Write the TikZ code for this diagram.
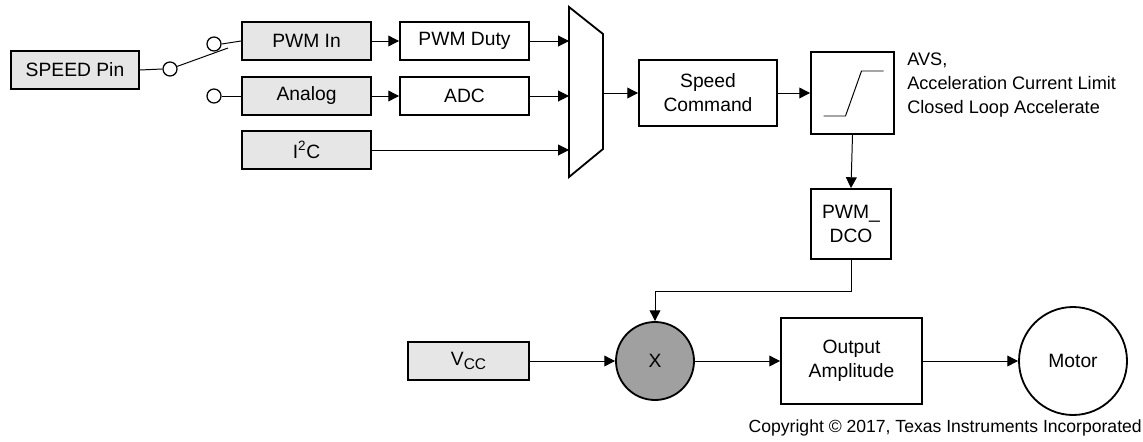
\documentclass[tikz,border=0pt]{standalone}
\usepackage{fontspec}
\setmainfont{Liberation Sans}
\usetikzlibrary{arrows.meta}

\definecolor{boxgray}{HTML}{E6E6E6}
\definecolor{mulgray}{HTML}{A0A0A0}

\begin{document}
\begin{tikzpicture}[x=0.025cm, y=-0.025cm,
  font=\fontsize{13.7}{17}\selectfont,
  >={Triangle[length=2.7mm,width=2.7mm]},
  block/.style={draw, line width=1.3pt, inner sep=2pt, align=center,
    minimum height=38*0.025cm},
  inbox/.style={block, fill=boxgray, minimum width=129*0.025cm},
  calcbox/.style={block, fill=white},
  pin/.style={draw, circle, fill=white, line width=0.9pt, inner sep=0pt,
    minimum size=14*0.025cm},
  link/.style={line width=0.7pt}]
\useasboundingbox (0,0) rectangle (1143,441);

% inputs
\node[inbox, minimum width=128*0.025cm] (speed) at (75,70) {SPEED Pin};
\node[inbox] (pwmin) at (306.5,41) {PWM In};
\node[inbox] (analog) at (306.5,96) {Analog};
\node[inbox] (iic) at (306.5,150) {I\textsuperscript{2}C};

% switch
\node[pin] (sw0) at (170,69) {};
\node[pin] (sw1) at (214,44) {};
\node[pin] (sw2) at (214,96) {};
\coordinate (blade) at (228,48);
\draw[link] (speed.east) -- (sw0.west);
\draw[link] (sw0) -- (blade);
\draw[link] (sw1.east) -- (pwmin.west);
\draw[link] (sw2.east) -- (analog.west);

% decoders
\node[calcbox, minimum width=129*0.025cm] (duty) at (464.5,41) {PWM Duty};
\node[calcbox, minimum width=129*0.025cm] (adc) at (464.5,96) {ADC};

% mux
\draw[line width=1.3pt] (569,7) -- (603,34) -- (603,149) -- (569,177) -- cycle;
\coordinate (mux-a) at (569,41);
\coordinate (mux-b) at (569,96);
\coordinate (mux-c) at (569,150);
\coordinate (mux-out) at (603,93);

\node[calcbox, minimum width=138*0.025cm, minimum height=66*0.025cm] (cmd) at (708,93) {Speed\\Command};
\node[calcbox, minimum width=83*0.025cm, minimum height=82*0.025cm] (ramp) at (852.5,93) {};
\draw[link] ([shift={(-29,23)}]ramp.center) -- ++(22,0) -- ++(16,-45) -- ++(22,0);
\node[anchor=north west, align=left, inner sep=0pt, font=\fontsize{12.9}{17.07}\selectfont] (rampnote) at (907,53)
  {AVS,\\Acceleration Current Limit\\Closed Loop Accelerate};
\node[calcbox, minimum width=80*0.025cm, minimum height=70*0.025cm] (dco) at (851,224) {PWM\_\\DCO};

% output stage
\node[inbox, minimum width=121*0.025cm] (vcc) at (468.5,361) {V\raisebox{-0.4ex}{\fontsize{11}{12}\selectfont CC}};
\node[draw, circle, fill=mulgray, line width=1.3pt, minimum size=78*0.025cm] (mult) at (655,361) {X};
\node[calcbox, minimum width=141*0.025cm, minimum height=86*0.025cm] (amp) at (851.5,361) {Output\\Amplitude};
\node[draw, circle, fill=white, line width=1.3pt, minimum size=108*0.025cm] (motor) at (1073,361) {Motor};

\node[anchor=east, inner sep=0pt, font=\fontsize{12.5}{15}\selectfont] (copy) at (1142,428) {Copyright \textcopyright\ 2017, Texas Instruments Incorporated};

% connections
\draw[link,->] (pwmin.east) -- (duty.west);
\draw[link,->] (analog.east) -- (adc.west);
\draw[link,->] (duty.east) -- (mux-a);
\draw[link,->] (adc.east) -- (mux-b);
\draw[link,->] (iic.east) -- (mux-c);
\draw[link,->] (mux-out) -- (cmd.west);
\draw[link,->] (cmd.east) -- (ramp.west);
\draw[link,->] (ramp.south) -- (dco.north);
\draw[link,->] (dco.south) -- ++(0,32) -| (mult.north);
\draw[link,->] (vcc.east) -- (mult.west);
\draw[link,->] (mult.east) -- (amp.west);
\draw[link,->] (amp.east) -- (motor.west);
\end{tikzpicture}
\end{document}
